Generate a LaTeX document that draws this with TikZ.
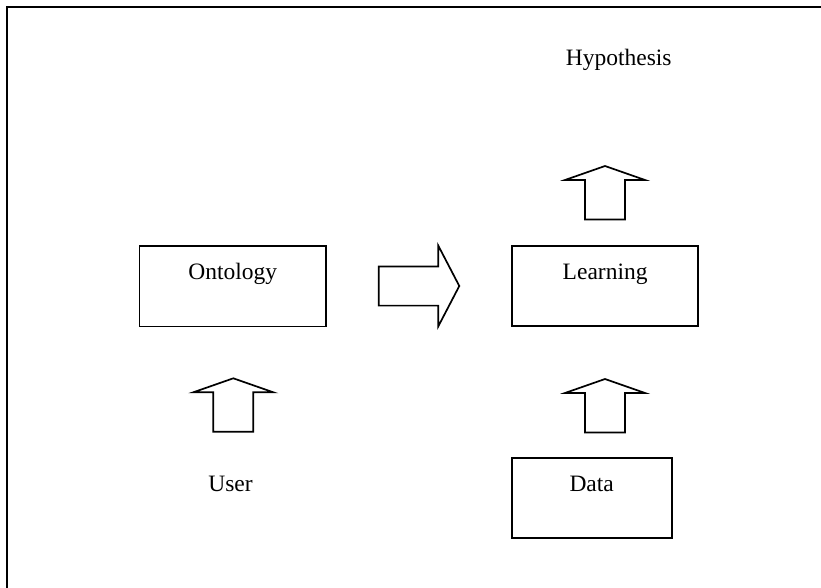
\documentclass[tikz,border=0pt]{standalone}
\usepackage{fontspec}
\setmainfont{Liberation Serif}
\begin{document}
\begin{tikzpicture}[x=1pt,y=-1pt,
  frameline/.style={line width=2.4pt, line cap=rect},
  stagebox/.style={draw, line width=1.9pt, inner sep=0pt},
  txt/.style={font=\fontsize{23.5}{28}\selectfont, inner sep=0pt, anchor=base},
  arrowline/.style={draw, line width=1.7pt, line join=miter},
  uparrow/.pic={\path[arrowline] (0,0) -- (40,14) -- (20,14) -- (20,53.4)
      -- (-20,53.4) -- (-20,14) -- (-40,14) -- cycle;},
  rightarrow/.pic={\path[arrowline] (0,0) -- (-21,-40.3) -- (-21,-19.6)
      -- (-80.6,-19.6) -- (-80.6,19.6) -- (-21,19.6) -- (-21,40.3) -- cycle;}
]
\useasboundingbox (0,0) rectangle (821,588);

% outer frame (top and left edges)
\draw[frameline] (7,588) -- (7,7) -- (821,7);

% stage boxes
\node[stagebox, minimum width=186.5pt, minimum height=80.5pt] (onto) at (232.75,286.25) {};
\node[stagebox, minimum width=186.3pt, minimum height=80pt] (learn) at (605.15,286) {};
\node[stagebox, minimum width=160pt, minimum height=80pt] (data) at (591.7,498.3) {};

% labels
\node[txt] (ontotxt) at ([yshift=-34pt]onto.north) {Ontology};
\node[txt] (learntxt) at ([yshift=-34pt]learn.north) {Learning};
\node[txt] (datatxt) at ([yshift=-34pt]data.north) {Data};
\node[txt] (hyp) at (618.7,65.7) {Hypothesis};
\node[txt] (user) at (230.5,491.7) {User};

% block arrows
\coordinate (tipUser) at (233.3,378.3);
\coordinate (tipData) at (605,379);
\coordinate (tipHyp) at (605,166);
\coordinate (tipOnto) at (459.3,286);
\pic at (tipUser) {uparrow};
\pic at (tipData) {uparrow};
\pic at (tipHyp) {uparrow};
\pic at (tipOnto) {rightarrow};
\end{tikzpicture}
\end{document}
